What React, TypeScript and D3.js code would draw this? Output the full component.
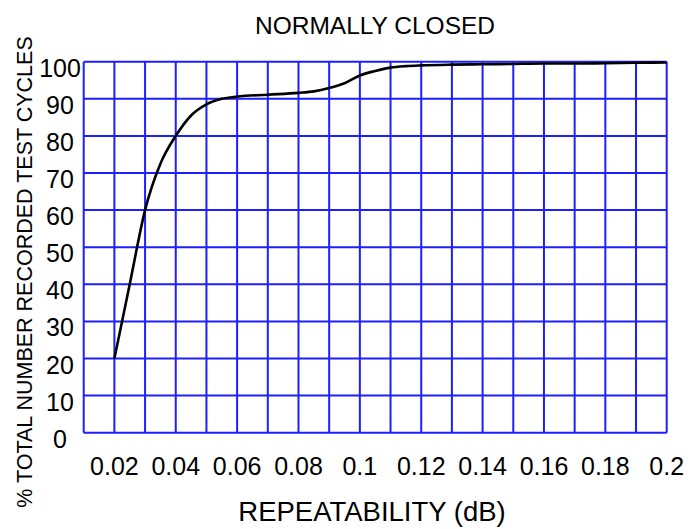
import React, { useEffect, useRef } from 'react';
import * as d3 from 'd3';

const repeatability = [0.02, 0.025, 0.03, 0.035, 0.04, 0.045, 0.05, 0.055, 0.06, 0.07, 0.08, 0.085, 0.09, 0.095, 0.1, 0.105, 0.11, 0.115, 0.12, 0.13, 0.14, 0.15, 0.16, 0.17, 0.18, 0.19, 0.2];
const percentCycles = [20, 40, 60, 72.5, 80, 85.5, 88.5, 90, 90.6, 91.1, 91.6, 92, 92.9, 94.2, 96.3, 97.5, 98.4, 98.8, 99, 99.2, 99.3, 99.4, 99.5, 99.5, 99.6, 99.7, 99.8];
const xGridValues = d3.range(1, 21).map(i => i / 100);
const xTickLabels = ['0.02', '0.04', '0.06', '0.08', '0.1', '0.12', '0.14', '0.16', '0.18', '0.2'];
const yTickLabels = ['0', '10', '20', '30', '40', '50', '60', '70', '80', '90', '100'];

const App: React.FC = () => {
    const svgRef = useRef<SVGSVGElement>(null);
    const width = 691;
    const height = 529;
    const font = 'Liberation Sans, Arial, Helvetica, sans-serif';
    const gridColor = '#1e1eff';

    useEffect(() => {
        if (!svgRef.current) return;
        const svg = d3.select(svgRef.current);
        svg.selectAll('*').remove();

        const x = d3.scaleLinear().domain([0.01, 0.2]).range([83.7, 666.7]);
        const y = d3.scaleLinear().domain([0, 100]).range([432.7, 61.7]);

        const g = svg.append('g');

        // grid
        g.selectAll('.vgrid')
            .data(xGridValues)
            .enter()
            .append('line')
            .attr('x1', d => x(d))
            .attr('x2', d => x(d))
            .attr('y1', y(0))
            .attr('y2', y(100))
            .attr('stroke', gridColor)
            .attr('stroke-width', 2);

        g.selectAll('.hgrid')
            .data(yTickLabels.map(Number))
            .enter()
            .append('line')
            .attr('x1', x(0.01))
            .attr('x2', x(0.2))
            .attr('y1', d => y(d))
            .attr('y2', d => y(d))
            .attr('stroke', gridColor)
            .attr('stroke-width', 2);

        // curve
        const data = repeatability.map((r, i) => [r, percentCycles[i]] as [number, number]);
        const line = d3.line<[number, number]>()
            .x(d => x(d[0]))
            .y(d => y(d[1]))
            .curve(d3.curveMonotoneX);

        g.append('path')
            .datum(data)
            .attr('d', line)
            .attr('fill', 'none')
            .attr('stroke', '#000')
            .attr('stroke-width', 2.6)
            .attr('stroke-linejoin', 'round');

        // tick labels
        g.selectAll('.xlabel')
            .data(xTickLabels)
            .enter()
            .append('text')
            .attr('x', d => x(Number(d)))
            .attr('y', 475)
            .attr('text-anchor', 'middle')
            .attr('font-family', font)
            .attr('font-size', 25)
            .attr('fill', '#000')
            .text(d => d);

        g.selectAll('.ylabel')
            .data(yTickLabels)
            .enter()
            .append('text')
            .attr('x', 60)
            .attr('y', d => y(Number(d)) + 15)
            .attr('text-anchor', 'middle')
            .attr('font-family', font)
            .attr('font-size', 25)
            .attr('fill', '#000')
            .text(d => d);

        // titles
        g.append('text')
            .attr('x', 375)
            .attr('y', 33.5)
            .attr('text-anchor', 'middle')
            .attr('font-family', font)
            .attr('font-size', 24.5)
            .text('NORMALLY CLOSED');

        g.append('text')
            .attr('x', 372)
            .attr('y', 521)
            .attr('text-anchor', 'middle')
            .attr('font-family', font)
            .attr('font-size', 27.5)
            .text('REPEATABILITY (dB)');

        g.append('text')
            .attr('transform', 'translate(32,272) rotate(-90)')
            .attr('text-anchor', 'middle')
            .attr('font-family', font)
            .attr('font-size', 21.5)
            .text('% TOTAL NUMBER RECORDED TEST CYCLES');
    }, []);

    return (
        <svg
            ref={svgRef}
            width={width}
            height={height}
            style={{ position: 'absolute', left: 0, top: 0, background: '#fff' }}
        />
    );
};

export default App;
